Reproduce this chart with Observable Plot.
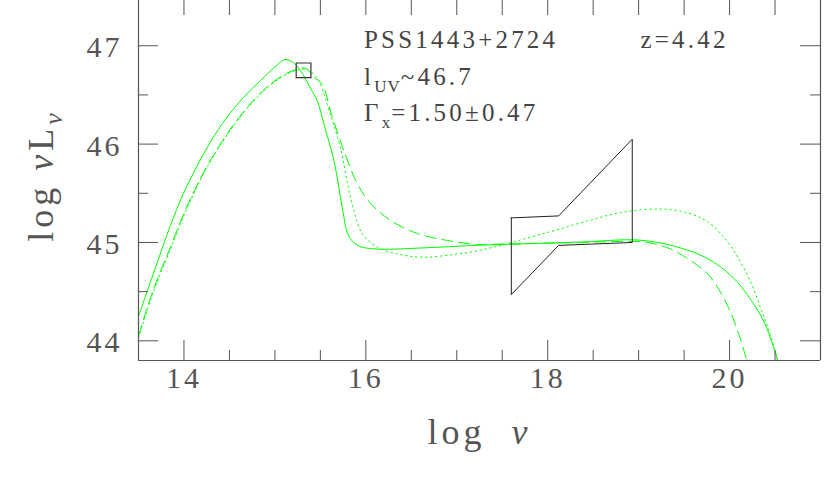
<!DOCTYPE html>
<html><head><meta charset="utf-8">
<script src="https://cdn.jsdelivr.net/npm/d3@7"></script>
<script src="https://cdn.jsdelivr.net/npm/@observablehq/plot@0.6"></script>
<style>
html,body{margin:0;padding:0;background:#fff;}
#chart svg{display:block;}
</style></head><body><div id="chart"></div>
<script>
// ---- data (log nu, log nuL_nu) ----
const solidX = [13.50, 13.70, 13.85, 13.99, 14.14, 14.29, 14.47, 14.65, 14.84, 15.02, 15.11, 15.20, 15.28, 15.39, 15.47, 15.54, 15.65, 15.74, 15.81, 15.91, 16.09, 16.64, 17.19, 17.71, 18.37, 18.99, 19.36, 19.73, 20.02, 20.24, 20.39, 20.53];
const solidY = [44.25, 44.78, 45.17, 45.49, 45.77, 46.02, 46.27, 46.47, 46.645, 46.80, 46.86, 46.83, 46.75, 46.57, 46.43, 46.20, 45.83, 45.36, 45.07, 44.97, 44.935, 44.945, 44.97, 44.985, 45.005, 45.025, 44.97, 44.85, 44.66, 44.41, 44.17, 43.80];

const dashedX = [13.50, 13.66, 13.85, 14.03, 14.21, 14.40, 14.58, 14.76, 14.95, 15.13, 15.24, 15.34, 15.43, 15.52, 15.62, 15.76, 15.91, 16.06, 16.28, 16.57, 16.90, 17.23, 17.52, 18.37, 18.80, 19.10, 19.36, 19.58, 19.76, 19.91, 20.02, 20.09, 20.19];
const dashedY = [44.05, 44.51, 44.95, 45.36, 45.70, 46.00, 46.24, 46.44, 46.61, 46.72, 46.76, 46.77, 46.68, 46.61, 46.31, 45.93, 45.59, 45.39, 45.22, 45.09, 45.02, 44.98, 44.985, 45.00, 45.01, 45.00, 44.93, 44.81, 44.68, 44.48, 44.27, 44.10, 43.80];

const dottedX = [13.50, 13.66, 13.85, 14.03, 14.21, 14.40, 14.58, 14.76, 14.95, 15.13, 15.24, 15.34, 15.43, 15.49, 15.62, 15.73, 15.80, 15.87, 15.96, 16.13, 16.39, 16.64, 16.94, 17.23, 17.52, 17.93, 18.07, 18.44, 18.81, 19.25, 19.54, 19.76, 19.95, 20.09, 20.24, 20.35, 20.46, 20.53];
const dottedY = [44.03, 44.49, 44.93, 45.34, 45.69, 45.99, 46.23, 46.43, 46.60, 46.71, 46.75, 46.76, 46.71, 46.63, 46.27, 45.93, 45.59, 45.32, 45.09, 44.95, 44.875, 44.85, 44.875, 44.915, 44.98, 45.085, 45.12, 45.22, 45.305, 45.34, 45.30, 45.21, 45.04, 44.85, 44.58, 44.31, 44.03, 43.80];

// X-ray bow tie (Gamma_x = 1.50 +/- 0.47)
const bowX = [17.60, 18.12, 18.93, 18.93, 18.12, 17.60, 17.60];
const bowY = [45.25, 45.27, 46.05, 45.00, 44.97, 44.47, 45.25];

// UV point (l_UV ~ 46.7)
const uvX = [15.315];
const uvY = [46.75];

// ticks
const xMajor = [14, 16, 18, 20];
const xMinor = [14.5, 15, 15.5, 16.5, 17, 17.5, 18.5, 19, 19.5, 20.5];
const xTickLabels = ["14", "16", "18", "20"];
const yMajor = [44, 45, 46, 47];
const yMinor = [44.5, 45.5, 46.5];
const yTickLabels = ["44", "45", "46", "47"];

// annotations
const noteText = ["PSS1443+2724", "z=4.42", "l_{UV}~46.7", "Γ_{x}=1.50±0.47"];
const noteX = [15.98, 19.02, 15.98, 15.98];
const noteY = [46.982, 46.982, 46.596, 46.24];

const xTitle = "log  *ν*";
const yTitle = "log *ν*L_{*ν*}";

// ---- build ----
const rows = (X, Y) => X.map((x, i) => ({x, y: Y[i]}));
const solid = rows(solidX, solidY);
const dashed = rows(dashedX, dashedY);
const dotted = rows(dottedX, dottedY);
const bow = rows(bowX, bowY);
const uv = rows(uvX, uvY);
const notes = noteText.map((t, i) => ({text: t, x: noteX[i], y: noteY[i]}));

const GREEN = "#00ff00";
const AX = "#555";
const W = 830, H = 498, mL = 138, mR = 10, mT = 0, mB = 138;
const fh = H - mT - mB, fw = W - mL - mR;
const CURVE = "catmull-rom";

const chart = Plot.plot({
  width: W, height: H,
  marginLeft: mL, marginRight: mR, marginTop: mT, marginBottom: mB,
  x: {domain: [13.5, 21], axis: null},
  y: {domain: [43.8, 47.46], axis: null},
  style: {fontFamily: "Liberation Serif", background: "#fff", overflow: "visible"},
  marks: [
    Plot.line(solid, {x: "x", y: "y", stroke: GREEN, strokeWidth: 1, curve: CURVE, clip: true}),
    Plot.line(dashed, {x: "x", y: "y", stroke: GREEN, strokeWidth: 1, curve: CURVE, strokeDasharray: "11,6", clip: true}),
    Plot.line(dotted, {x: "x", y: "y", stroke: GREEN, strokeWidth: 1, curve: CURVE, strokeDasharray: "1.5,3.5", clip: true}),
    Plot.line(bow, {x: "x", y: "y", stroke: "#222", strokeWidth: 1}),
    Plot.dot(uv, {x: "x", y: "y", symbol: "square", r: 8.3, stroke: "#333", fill: "none", strokeWidth: 1.2}),
    // frame (top edge lies above the visible area)
    Plot.ruleX([13.5, 21], {stroke: AX, strokeWidth: 1.2}),
    Plot.ruleY([43.8], {stroke: AX, strokeWidth: 1.2}),
    // bottom ticks
    Plot.ruleX(xMajor, {stroke: AX, insetTop: fh - 20}),
    Plot.ruleX(xMinor, {stroke: AX, insetTop: fh - 10}),
    // top ticks (cut by the picture edge)
    Plot.ruleX(xMajor.concat(xMinor), {stroke: AX, insetBottom: fh - 15}),
    // left ticks
    Plot.ruleY(yMajor, {stroke: AX, insetRight: fw - 20}),
    Plot.ruleY(yMinor, {stroke: AX, insetRight: fw - 10}),
    // right ticks
    Plot.ruleY(yMajor, {stroke: AX, insetLeft: fw - 20}),
    Plot.ruleY(yMinor, {stroke: AX, insetLeft: fw - 10}),
    // tick labels
    Plot.text(xMajor, {x: d => d, text: (d, i) => xTickLabels[i], frameAnchor: "bottom", dy: 27, fontSize: 30, fill: "#555", textAnchor: "middle"}),
    Plot.text(yMajor, {y: d => d, text: (d, i) => yTickLabels[i], frameAnchor: "left", textAnchor: "end", dx: -16, dy: 2, fontSize: 30, fill: "#555"}),
    // annotations
    Plot.text(notes, {x: "x", y: "y", text: "text", textAnchor: "start", lineAnchor: "bottom", fontSize: 25, fill: "#444"}),
    // axis titles
    Plot.text([xTitle], {text: d => d, frameAnchor: "bottom", textAnchor: "middle", lineAnchor: "bottom", dy: 83, fontSize: 36, fill: "#555"}),
    Plot.text([yTitle], {text: d => d, frameAnchor: "left", textAnchor: "middle", lineAnchor: "bottom", rotate: -90, dx: -86, dy: -4, fontSize: 36, fill: "#555"})
  ]
});
document.getElementById("chart").appendChild(chart);

// rich text: _{..} subscript, *..* italic
function rich(el, s, subSize, subDy, subSpacing) {
  const t = d3.select(el);
  if (!/[_*]/.test(s)) return;
  t.text("");
  const parts = s.split(/(_\{[^}]*\}|\*[^*]*\*)/).filter(p => p !== "");
  let shifted = false;
  for (const p of parts) {
    if (p.startsWith("_{")) {
      let inner = p.slice(2, -1), italic = false;
      if (inner.startsWith("*")) { inner = inner.slice(1, -1); italic = true; }
      t.append("tspan").attr("dy", subDy).attr("font-size", subSize)
        .attr("letter-spacing", subSpacing)
        .attr("font-style", italic ? "italic" : null).text(inner);
      shifted = true;
    } else {
      const italic = p.startsWith("*");
      const ts = t.append("tspan").attr("font-style", italic ? "italic" : null).text(italic ? p.slice(1, -1) : p);
      if (shifted) { ts.attr("dy", -subDy); shifted = false; }
    }
  }
}
const svg = d3.select(chart);
svg.selectAll("text").each(function () {
  const s = this.textContent;
  if (noteText.includes(s)) {
    d3.select(this).attr("letter-spacing", 3.2);
    rich(this, s, 17, 7, 1);
  } else if (s === xTitle || s === yTitle) {
    d3.select(this).attr("letter-spacing", 4);
    rich(this, s, 26, 9, 2);
  } else {
    d3.select(this).attr("letter-spacing", 3);
  }
});
</script>
</body></html>
